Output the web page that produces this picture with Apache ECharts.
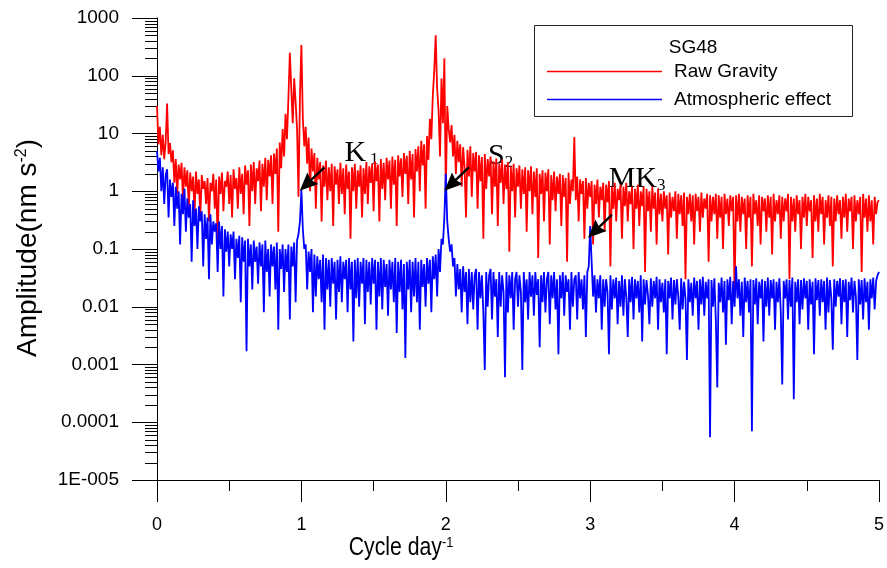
<!DOCTYPE html>
<html><head><meta charset="utf-8">
<script src="https://cdn.jsdelivr.net/npm/echarts@6/dist/echarts.min.js"></script>
<style>html,body{margin:0;padding:0;background:#fff}#c{width:887px;height:568px}</style>
</head><body><div id="c"></div>
<script>
// spectrum sample spacing (cycle/day); sample i sits at frequency i*xStep
const xStep = 0.01;

const rawGravity = [
30, 6.5, 13, 4.2, 9.5, 3.6, 7.2, 33, 4.4, 6.8,
3.2, 5.1, 1.4, 3.6, 0.9, 2.9, 1.6, 3.1, 0.7, 2.6,
1.2, 2.3, 0.5, 2.1, 1.0, 1.8, 0.4, 2.2, 0.9, 1.6,
0.35, 1.9, 1.1, 1.5, 0.6, 1.7, 0.3, 1.4, 1.0, 2.0,
0.5, 1.6, 0.12, 1.8, 0.9, 2.1, 0.45, 1.5, 1.2, 2.2,
0.6, 1.9, 0.35, 2.4, 1.1, 1.7, 0.5, 2.6, 0.9, 2.0,
0.4, 2.8, 1.3, 2.3, 0.25, 2.9, 1.0, 3.2, 0.6, 2.5,
1.5, 3.4, 0.45, 3.0, 1.2, 3.8, 0.7, 3.5, 1.8, 4.2,
0.6, 4.5, 2.0, 5.5, 0.2, 7.0, 2.5, 12, 4.0, 22,
8.0, 40, 250, 60, 15, 90, 35, 12, 0.8, 45,
340, 18, 6.0, 13, 3.0, 8.5, 1.0, 5.5, 2.2, 4.6,
0.5, 3.8, 1.6, 3.2, 0.3, 2.8, 1.2, 3.4, 0.7, 2.6,
1.0, 3.0, 0.25, 2.7, 1.3, 2.4, 0.6, 3.1, 0.9, 2.5,
0.4, 2.9, 1.1, 2.2, 0.15, 2.6, 1.0, 3.0, 0.5, 2.3,
1.2, 2.8, 0.35, 2.5, 0.9, 3.2, 0.6, 2.7, 1.4, 3.0,
0.45, 3.3, 1.5, 2.9, 0.3, 3.6, 1.1, 3.1, 0.7, 3.8,
1.6, 3.4, 0.5, 4.0, 1.3, 3.5, 0.25, 4.2, 1.8, 3.7,
0.8, 4.6, 2.0, 4.1, 0.6, 5.0, 1.6, 4.4, 0.35, 5.4,
2.2, 6.0, 1.0, 7.5, 2.8, 6.5, 0.5, 9.0, 3.5, 18,
8.0, 45, 120, 500, 60, 25, 4.0, 90, 15, 200,
0.9, 30, 12, 7.0, 14, 4.0, 9.5, 2.0, 7.5, 3.2,
6.5, 1.2, 5.8, 2.6, 0.35, 5.2, 1.8, 6.0, 0.8, 4.6,
2.2, 4.8, 0.5, 4.2, 1.5, 3.9, 0.15, 4.4, 1.1, 3.6,
1.8, 4.0, 0.4, 3.3, 1.2, 3.7, 0.25, 3.0, 1.4, 3.5,
0.6, 2.9, 1.1, 3.2, 0.09, 2.7, 1.0, 3.0, 0.35, 2.5,
1.2, 2.8, 0.5, 2.4, 0.9, 2.6, 0.2, 2.3, 1.0, 2.7,
0.4, 2.2, 0.8, 2.5, 0.07, 2.0, 0.9, 2.3, 0.3, 2.1,
1.0, 2.4, 0.12, 1.9, 0.7, 2.2, 0.45, 1.8, 0.9, 2.0,
0.25, 1.9, 0.8, 1.7, 0.06, 2.1, 0.6, 1.6, 1.0, 8.7,
0.7, 1.8, 0.3, 1.6, 0.9, 1.5, 0.15, 1.7, 0.5, 1.4,
0.8, 1.5, 0.12, 1.3, 0.6, 1.6, 0.35, 1.2, 0.7, 1.4,
0.2, 1.3, 0.65, 1.5, 0.05, 1.2, 0.5, 1.4, 0.3, 1.1,
0.7, 1.3, 0.15, 1.2, 0.55, 1.4, 0.3, 1.0, 0.6, 1.2,
0.1, 1.1, 0.5, 1.3, 0.25, 1.0, 0.55, 1.2, 0.04, 1.1,
0.45, 1.0, 0.2, 1.2, 0.5, 0.95, 0.12, 1.1, 0.4, 0.9,
0.3, 1.0, 0.5, 0.85, 0.08, 0.95, 0.35, 0.8, 0.45, 1.0,
0.15, 0.9, 0.4, 0.85, 0.25, 0.95, 0.03, 0.8, 0.4, 0.9,
0.3, 0.85, 0.12, 0.9, 0.45, 0.8, 0.2, 0.95, 0.35, 0.75,
0.5, 0.9, 0.06, 0.85, 0.3, 0.8, 0.4, 0.9, 0.15, 0.85,
0.35, 0.8, 0.1, 0.9, 0.4, 0.75, 0.25, 0.85, 0.45, 0.8,
0.015, 0.85, 0.3, 0.9, 0.2, 0.8, 0.4, 0.75, 0.1, 0.85,
0.35, 0.8, 0.05, 0.9, 0.4, 0.7, 0.25, 0.85, 0.12, 0.8,
0.45, 0.75, 0.2, 0.85, 0.35, 0.8, 0.08, 0.9, 0.3, 0.7,
0.4, 0.85, 0.15, 0.8, 0.3, 0.75, 0.45, 0.9, 0.03, 0.8,
0.3, 0.75, 0.2, 0.85, 0.4, 0.7, 0.1, 0.8, 0.35, 0.9,
0.25, 0.8, 0.45, 0.7, 0.07, 0.85, 0.3, 0.75, 0.2, 0.9,
0.4, 0.8, 0.12, 0.7, 0.35, 0.85, 0.25, 0.8, 0.05, 0.75,
0.3, 0.85, 0.4, 0.7, 0.15, 0.8, 0.35, 0.9, 0.2, 0.75,
0.45, 0.8, 0.1, 0.85, 0.3, 0.7, 0.4, 0.8, 0.04, 0.9,
0.35, 0.75, 0.2, 0.85, 0.3, 0.7, 0.12, 0.8, 0.4, 0.65,
0.7
];

const atmosphericEffect = [
5.0, 2.2, 3.8, 1.0, 2.6, 0.6, 1.9, 2.4, 0.35, 1.6,
0.8, 1.4, 0.25, 1.2, 0.5, 1.0, 0.12, 0.9, 0.4, 1.1,
0.2, 0.75, 0.35, 0.6, 0.06, 0.7, 0.25, 0.5, 0.1, 0.55,
0.3, 0.45, 0.05, 0.4, 0.15, 0.35, 0.03, 0.4, 0.12, 0.3,
0.2, 0.28, 0.04, 0.3, 0.1, 0.25, 0.015, 0.22, 0.09, 0.2,
0.05, 0.18, 0.1, 0.2, 0.03, 0.15, 0.07, 0.17, 0.012, 0.16,
0.06, 0.14, 0.0017, 0.15, 0.05, 0.12, 0.02, 0.14, 0.06, 0.11,
0.025, 0.13, 0.05, 0.12, 0.008, 0.14, 0.04, 0.1, 0.015, 0.12,
0.05, 0.11, 0.02, 0.13, 0.004, 0.1, 0.045, 0.12, 0.018, 0.1,
0.04, 0.12, 0.006, 0.11, 0.05, 0.13, 0.012, 0.14, 0.18, 0.3,
1.05, 0.22, 0.1, 0.12, 0.02, 0.09, 0.04, 0.1, 0.008, 0.08,
0.015, 0.075, 0.03, 0.065, 0.012, 0.08, 0.004, 0.07, 0.02, 0.065,
0.01, 0.07, 0.025, 0.06, 0.006, 0.065, 0.018, 0.075, 0.012, 0.06,
0.03, 0.065, 0.008, 0.07, 0.02, 0.06, 0.0025, 0.065, 0.014, 0.07,
0.01, 0.06, 0.025, 0.07, 0.005, 0.065, 0.018, 0.06, 0.011, 0.07,
0.025, 0.065, 0.004, 0.06, 0.015, 0.07, 0.009, 0.065, 0.022, 0.055,
0.007, 0.065, 0.02, 0.06, 0.012, 0.07, 0.0035, 0.06, 0.018, 0.065,
0.009, 0.055, 0.0013, 0.06, 0.02, 0.065, 0.008, 0.06, 0.015, 0.07,
0.012, 0.06, 0.004, 0.065, 0.022, 0.055, 0.01, 0.07, 0.025, 0.065,
0.008, 0.075, 0.03, 0.08, 0.015, 0.1, 0.04, 0.15, 0.12, 0.35,
2.0, 0.3, 0.15, 0.09, 0.12, 0.05, 0.07, 0.015, 0.055, 0.02,
0.045, 0.008, 0.05, 0.018, 0.04, 0.005, 0.045, 0.012, 0.04, 0.009,
0.035, 0.045, 0.004, 0.04, 0.014, 0.035, 0.008, 0.0008, 0.04, 0.01,
0.035, 0.045, 0.006, 0.04, 0.015, 0.03, 0.003, 0.04, 0.01, 0.035,
0.018, 0.0006, 0.04, 0.008, 0.035, 0.014, 0.04, 0.004, 0.03, 0.04,
0.01, 0.035, 0.018, 0.0008, 0.04, 0.012, 0.03, 0.006, 0.04, 0.015,
0.035, 0.007, 0.04, 0.016, 0.03, 0.002, 0.035, 0.012, 0.04, 0.008,
0.03, 0.04, 0.005, 0.035, 0.014, 0.04, 0.009, 0.03, 0.0015, 0.035,
0.014, 0.04, 0.007, 0.035, 0.018, 0.03, 0.004, 0.04, 0.01, 0.03,
0.035, 0.006, 0.04, 0.014, 0.03, 0.009, 0.035, 0.003, 0.04, 0.05,
0.25, 0.06, 0.015, 0.035, 0.008, 0.03, 0.014, 0.035, 0.004, 0.03,
0.01, 0.03, 0.018, 0.0015, 0.035, 0.009, 0.03, 0.014, 0.032, 0.005,
0.028, 0.01, 0.035, 0.007, 0.03, 0.015, 0.003, 0.03, 0.012, 0.033,
0.006, 0.03, 0.014, 0.028, 0.008, 0.035, 0.0025, 0.03, 0.011, 0.029,
0.016, 0.005, 0.031, 0.01, 0.028, 0.014, 0.033, 0.004, 0.03, 0.012,
0.026, 0.008, 0.03, 0.0015, 0.028, 0.014, 0.032, 0.006, 0.029, 0.011,
0.03, 0.015, 0.004, 0.031, 0.009, 0.027, 0.014, 0.0012, 0.03, 0.012,
0.026, 0.007, 0.032, 0.014, 0.028, 0.004, 0.03, 0.011, 0.033, 0.007,
0.027, 0.014, 0.03, 0.000055, 0.029, 0.01, 0.031, 0.006, 0.0004, 0.026,
0.012, 0.032, 0.008, 0.028, 0.0022, 0.03, 0.013, 0.033, 0.005, 0.028,
0.01, 0.05, 0.014, 0.03, 0.007, 0.027, 0.003, 0.032, 0.012, 0.028,
0.008, 0.03, 0.00007, 0.029, 0.011, 0.031, 0.005, 0.027, 0.014, 0.03,
0.0025, 0.028, 0.01, 0.032, 0.007, 0.029, 0.014, 0.03, 0.004, 0.027,
0.012, 0.031, 0.008, 0.00045, 0.028, 0.014, 0.03, 0.006, 0.029, 0.01,
0.032, 0.00025, 0.027, 0.012, 0.03, 0.005, 0.029, 0.009, 0.031, 0.014,
0.028, 0.004, 0.03, 0.011, 0.027, 0.0015, 0.031, 0.013, 0.029, 0.007,
0.03, 0.012, 0.028, 0.004, 0.032, 0.008, 0.029, 0.014, 0.0018, 0.03,
0.01, 0.028, 0.015, 0.031, 0.005, 0.029, 0.012, 0.03, 0.003, 0.027,
0.013, 0.032, 0.008, 0.028, 0.015, 0.0012, 0.03, 0.011, 0.029, 0.006,
0.031, 0.012, 0.027, 0.004, 0.03, 0.014, 0.032, 0.009, 0.028, 0.035,
0.04
];

const seriesNames = ['Raw Gravity', 'Atmospheric effect'];
const legendTitle = 'SG48';
const xTickLabels = ['0', '1', '2', '3', '4', '5'];
const yTickLabels = ['1E-005', '0.0001', '0.001', '0.01', '0.1', '1', '10', '100', '1000'];
const xAxisTitle = 'Cycle day';
const xAxisTitleSup = '-1';
const yAxisTitle = 'Amplitude(nm s';
const yAxisTitleSup = '-2';

// tidal line annotations in [freq, amplitude]: arrow tail, arrowhead centre, text anchor (bottom-left)
const annoMain = ['K', 'S', 'MK'];
const annoSub = ['1', '2', '3'];
const annoHead = [[1.034, 1.31], [2.036, 1.31], [3.030, 0.201]];
const annoTail = [[1.16, 2.6], [2.16, 2.6], [3.15, 0.39]];
const annoText = [[1.298, 2.48], [2.293, 2.2], [3.128, 0.88]];

const SANS = 'Liberation Sans';
const SERIF = 'Liberation Serif';

const toPairs = arr => arr.map((v, i) => [Math.round(i * xStep * 100) / 100, v]);

const chart = echarts.init(document.getElementById('c'), null, {renderer: 'canvas'});

const option = {
  animation: false,
  backgroundColor: '#fff',
  grid: {left: 157, right: 6, top: 18, bottom: 88, containLabel: false},
  xAxis: {
    type: 'value', min: 0, max: 5, interval: 1,
    axisLine: {show: true, lineStyle: {color: '#000', width: 1}},
    axisTick: {show: true, inside: false, length: 22, lineStyle: {color: '#000', width: 1}},
    minorTick: {show: true, splitNumber: 2, length: 11, lineStyle: {color: '#000', width: 1}},
    splitLine: {show: false}, minorSplitLine: {show: false},
    axisLabel: {margin: 36, fontFamily: SANS, fontSize: 18, color: '#000',
      formatter: v => xTickLabels[Math.round(v)]}
  },
  yAxis: {
    type: 'log', logBase: 10, min: 1e-5, max: 1000, splitNumber: 8,
    axisLine: {show: true, lineStyle: {color: '#000', width: 1}},
    axisTick: {show: true, inside: false, length: 25, lineStyle: {color: '#000', width: 1}},
    splitLine: {show: false},
    axisLabel: {margin: 38, fontFamily: SANS, fontSize: 19, color: '#000',
      formatter: v => yTickLabels[Math.round(Math.log10(v)) + 5]}
  },
  legend: {
    data: seriesNames.map(n => ({name: n, icon: 'rect'})), orient: 'vertical', left: 547, top: 62,
    itemWidth: 115, itemHeight: 1.5, itemGap: 9, padding: 0,
    textStyle: {fontFamily: SANS, fontSize: 19, color: '#000', padding: [0, 0, 0, 7]},
    selectedMode: false
  },
  series: [
    {name: seriesNames[0], type: 'line', data: toPairs(rawGravity), showSymbol: false, symbol: 'none',
     sampling: null, lineStyle: {color: '#ff0000', width: 1.8}, itemStyle: {color: '#ff0000'}, silent: true},
    {name: seriesNames[1], type: 'line', data: toPairs(atmosphericEffect), showSymbol: false, symbol: 'none',
     sampling: null, lineStyle: {color: '#0000ff', width: 1.8}, itemStyle: {color: '#0000ff'}, silent: true,
     markLine: {
       silent: true, symbol: ['none', 'path://M5,0 L10,14 L5,12 L0,14 Z'], symbolSize: [16, 18],
       label: {show: false}, lineStyle: {color: '#000', width: 2.4, type: 'solid'},
       emphasis: {disabled: true},
       data: annoHead.map((h, i) => [{coord: annoTail[i]}, {coord: h}])
     }}
  ]
};
chart.setOption(option);

function decorate() {
  const els = [];
  const x0 = chart.convertToPixel({xAxisIndex: 0}, 0);
  for (let e = -5; e < 3; e++) {
    for (let m = 2; m <= 9; m++) {
      const y = Math.round(chart.convertToPixel({yAxisIndex: 0}, m * Math.pow(10, e))) + 0.5;
      els.push({type: 'line', silent: true, shape: {x1: x0 - 12, y1: y, x2: x0, y2: y},
        style: {stroke: '#000', lineWidth: 1}});
    }
  }
  annoMain.forEach((t, i) => {
    const p = chart.convertToPixel({gridIndex: 0}, annoText[i]);
    els.push({type: 'text', silent: true, x: p[0], y: p[1],
      style: {text: '{m|' + t + '}{s|' + annoSub[i] + '}', align: 'left', verticalAlign: 'bottom',
        rich: {m: {fontFamily: SERIF, fontSize: 30, fill: '#000', verticalAlign: 'bottom'},
               s: {fontFamily: SERIF, fontSize: 17, fill: '#000', verticalAlign: 'bottom', padding: [0, 0, 0, i === 0 ? 4 : 0]}}}});
  });
  // axis titles
  els.push({type: 'text', silent: true, x: 401, y: 548, scaleX: 0.85,
    style: {text: xAxisTitle + '{s|' + xAxisTitleSup + '}', fontFamily: SANS, fontSize: 25, fill: '#000',
      align: 'center', verticalAlign: 'middle',
      rich: {s: {fontFamily: SANS, fontSize: 15, fill: '#000', verticalAlign: 'top'}}}});
  els.push({type: 'text', silent: true, x: 28, y: 248, rotation: Math.PI / 2,
    style: {text: yAxisTitle + '{s|' + yAxisTitleSup + '})', fontFamily: SANS, fontSize: 28, fill: '#000',
      align: 'center', verticalAlign: 'middle',
      rich: {s: {fontFamily: SANS, fontSize: 16, fill: '#000', verticalAlign: 'top'}}}});
  // legend frame and title
  els.push({type: 'rect', silent: true, shape: {x: 534.5, y: 25.5, width: 318, height: 91},
    style: {fill: 'none', stroke: '#222', lineWidth: 1}, z: -1});
  els.push({type: 'text', silent: true, x: 693, y: 48,
    style: {text: legendTitle, fontFamily: SANS, fontSize: 19, fill: '#000', align: 'center', verticalAlign: 'middle'}});
  chart.setOption({graphic: els});
}
decorate();
</script>
</body></html>
